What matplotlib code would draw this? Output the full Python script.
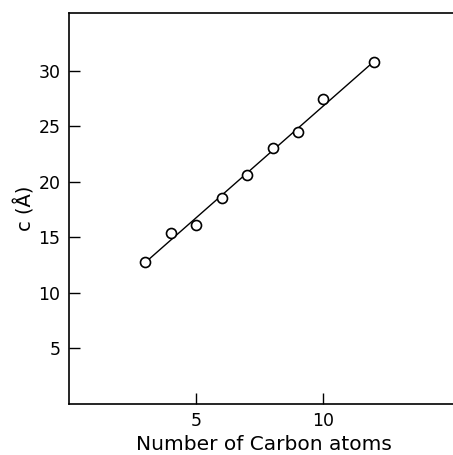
import numpy as np
import matplotlib.pyplot as plt

# chain length vs. c lattice parameter
carbon_atoms = [3, 4, 5, 6, 7, 8, 9, 10, 12]
c_spacing = [12.8, 15.4, 16.15, 18.5, 20.6, 23.0, 24.5, 27.4, 30.75]

x_ticks = [5, 10]
y_ticks = [5, 10, 15, 20, 25, 30]

fig = plt.figure(figsize=(4.53, 4.55), dpi=100)
ax = fig.add_axes([0.152, 0.112, 0.86, 0.86])

# least squares line across the measured range
slope, icpt = np.polyfit(carbon_atoms, c_spacing, 1)
xs = np.array([carbon_atoms[0], carbon_atoms[-1]])
ax.plot(xs, slope * xs + icpt, color='black', lw=1.0, zorder=2)

ax.plot(carbon_atoms, c_spacing, 'o', ms=7.2, mfc='white', mec='black', mew=1.2, zorder=3)

ax.set_xlim(0, 15.3)
ax.set_ylim(0, 35.2)
ax.set_xticks(x_ticks)
ax.set_yticks(y_ticks)
ax.tick_params(direction='in', length=8, width=1.0, labelsize=12.5, pad=6)
ax.spines['right'].set_visible(False)
for s in ['left', 'bottom', 'top']:
    ax.spines[s].set_linewidth(1.2)

ax.set_xlabel("Number of Carbon atoms", fontsize=14.5, labelpad=3)
ax.set_ylabel("c (Å)", fontsize=14, labelpad=2)

fig.savefig("out.png", dpi=100)
